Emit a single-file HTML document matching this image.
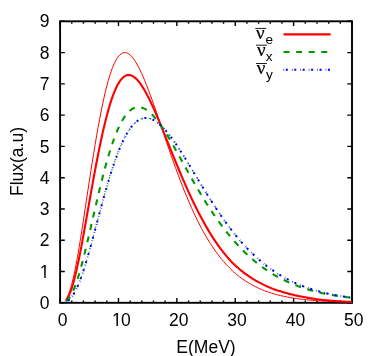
<!DOCTYPE html><html><head><meta charset="utf-8"><style>html,body{margin:0;padding:0;background:#fff}body{width:382px;height:356px;overflow:hidden}</style></head><body><svg width="382" height="356" viewBox="0 0 382 356" style="display:block;font-family:'Liberation Sans',sans-serif">
<rect width="382" height="356" fill="#fff"/>
<rect x="60.1" y="21.3" width="291.9" height="281.5" fill="none" stroke="#000" stroke-width="1.9"/>
<path d="M60.10 302.8 v-4.7 M60.10 21.3 v4.7 M71.78 302.8 v-2.4 M71.78 21.3 v2.4 M83.45 302.8 v-2.4 M83.45 21.3 v2.4 M95.13 302.8 v-2.4 M95.13 21.3 v2.4 M106.80 302.8 v-2.4 M106.80 21.3 v2.4 M118.48 302.8 v-4.7 M118.48 21.3 v4.7 M130.16 302.8 v-2.4 M130.16 21.3 v2.4 M141.83 302.8 v-2.4 M141.83 21.3 v2.4 M153.51 302.8 v-2.4 M153.51 21.3 v2.4 M165.18 302.8 v-2.4 M165.18 21.3 v2.4 M176.86 302.8 v-4.7 M176.86 21.3 v4.7 M188.54 302.8 v-2.4 M188.54 21.3 v2.4 M200.21 302.8 v-2.4 M200.21 21.3 v2.4 M211.89 302.8 v-2.4 M211.89 21.3 v2.4 M223.56 302.8 v-2.4 M223.56 21.3 v2.4 M235.24 302.8 v-4.7 M235.24 21.3 v4.7 M246.92 302.8 v-2.4 M246.92 21.3 v2.4 M258.59 302.8 v-2.4 M258.59 21.3 v2.4 M270.27 302.8 v-2.4 M270.27 21.3 v2.4 M281.94 302.8 v-2.4 M281.94 21.3 v2.4 M293.62 302.8 v-4.7 M293.62 21.3 v4.7 M305.30 302.8 v-2.4 M305.30 21.3 v2.4 M316.97 302.8 v-2.4 M316.97 21.3 v2.4 M328.65 302.8 v-2.4 M328.65 21.3 v2.4 M340.32 302.8 v-2.4 M340.32 21.3 v2.4 M352.00 302.8 v-4.7 M352.00 21.3 v4.7 M60.1 302.80 h4.7 M352.0 302.80 h-4.7 M60.1 271.52 h4.7 M352.0 271.52 h-4.7 M60.1 240.24 h4.7 M352.0 240.24 h-4.7 M60.1 208.97 h4.7 M352.0 208.97 h-4.7 M60.1 177.69 h4.7 M352.0 177.69 h-4.7 M60.1 146.41 h4.7 M352.0 146.41 h-4.7 M60.1 115.13 h4.7 M352.0 115.13 h-4.7 M60.1 83.86 h4.7 M352.0 83.86 h-4.7 M60.1 52.58 h4.7 M352.0 52.58 h-4.7 M60.1 21.30 h4.7 M352.0 21.30 h-4.7" stroke="#000" stroke-width="1.4" fill="none"/>
<clipPath id="cp"><rect x="60.1" y="21.3" width="291.9" height="281.5"/></clipPath>
<g clip-path="url(#cp)" fill="none" stroke-linejoin="round">
<path d="M65.94 299.58 L67.40 297.02 L68.86 293.60 L70.32 289.31 L71.78 284.16 L73.24 278.21 L74.70 271.51 L76.15 264.14 L77.61 256.16 L79.07 247.67 L80.53 238.75 L81.99 229.48 L83.45 219.96 L84.91 210.25 L86.37 200.45 L87.83 190.86 L89.29 181.29 L90.75 171.82 L92.21 162.50 L93.67 153.37 L95.13 144.48 L96.59 135.87 L98.05 127.59 L99.51 119.65 L100.97 112.10 L102.43 104.95 L103.88 98.22 L105.34 91.85 L106.80 85.95 L108.26 80.55 L109.72 75.63 L111.18 71.21 L112.64 67.28 L114.10 63.84 L115.56 60.88 L117.02 58.39 L118.48 56.36 L119.94 54.79 L121.40 53.64 L122.86 52.92 L124.32 52.60 L125.78 52.67 L127.24 53.10 L128.70 53.89 L130.16 55.02 L131.62 56.46 L133.07 58.20 L134.53 60.22 L135.99 62.49 L137.45 65.01 L138.91 67.76 L140.37 70.71 L141.83 73.85 L143.29 77.17 L144.75 80.64 L146.21 84.26 L147.67 88.00 L149.13 91.85 L150.59 95.81 L152.05 99.84 L153.51 103.95 L154.97 108.11 L156.43 112.33 L157.89 116.58 L159.35 120.86 L160.81 125.16 L162.27 129.46 L163.72 133.76 L165.18 138.06 L166.64 142.33 L168.10 146.59 L169.56 150.81 L171.02 155.00 L172.48 159.15 L173.94 163.26 L175.40 167.31 L176.86 171.31 L178.32 175.25 L179.78 179.12 L181.24 182.94 L182.70 186.69 L184.16 190.36 L185.62 193.97 L187.08 197.50 L188.54 200.96 L190.00 204.35 L191.45 207.65 L192.91 210.88 L194.37 214.04 L195.83 217.11 L197.29 220.11 L198.75 223.03 L200.21 225.87 L201.67 228.64 L203.13 231.32 L204.59 233.94 L206.05 236.47 L207.51 238.94 L208.97 241.33 L210.43 243.64 L211.89 245.89 L213.35 248.06 L214.81 250.17 L216.27 252.21 L217.73 254.18 L219.19 256.09 L220.64 257.94 L222.10 259.72 L223.56 261.44 L225.02 263.10 L226.48 264.71 L227.94 266.26 L229.40 267.75 L230.86 269.19 L232.32 270.58 L233.78 271.91 L235.24 273.20 L236.70 274.44 L238.16 275.63 L239.62 276.78 L241.08 277.89 L242.54 278.95 L244.00 279.97 L245.46 280.95 L246.92 281.90 L248.38 282.80 L249.84 283.67 L251.29 284.51 L252.75 285.31 L254.21 286.08 L255.67 286.82 L257.13 287.53 L258.59 288.21 L260.05 288.86 L261.51 289.49 L262.97 290.09 L264.43 290.66 L265.89 291.21 L267.35 291.74 L268.81 292.24 L270.27 292.72 L271.73 293.19 L273.19 293.63 L274.65 294.05 L276.11 294.46 L277.57 294.84 L279.03 295.21 L280.48 295.57 L281.94 295.90 L283.40 296.23 L284.86 296.54 L286.32 296.83 L287.78 297.11 L289.24 297.38 L290.70 297.64 L292.16 297.89 L293.62 298.12 L295.08 298.34 L296.54 298.56 L298.00 298.76 L299.46 298.96 L300.92 299.14 L302.38 299.32 L303.84 299.49 L305.30 299.65 L306.76 299.80 L308.21 299.95 L309.67 300.09 L311.13 300.22 L312.59 300.35 L314.05 300.47 L315.51 300.58 L316.97 300.69 L318.43 300.80 L319.89 300.89 L321.35 300.99 L322.81 301.08 L324.27 301.16 L325.73 301.25 L327.19 301.32 L328.65 301.40 L330.11 301.47 L331.57 301.54 L333.03 301.60 L334.49 301.66 L335.95 301.72 L337.40 301.77 L338.86 301.82 L340.32 301.87 L341.78 301.92 L343.24 301.96 L344.70 302.01 L346.16 302.05 L347.62 302.09 L349.08 302.12 L350.54 302.16 L352.00 302.19" stroke="#f00" stroke-width="1.0"/>
<path d="M65.94 300.28 L67.40 298.26 L68.86 295.55 L70.32 292.12 L71.78 287.99 L73.24 283.19 L74.70 277.76 L76.15 271.75 L77.61 265.22 L79.07 258.23 L80.53 250.85 L81.99 243.14 L83.45 235.17 L84.91 227.01 L86.37 218.71 L87.83 210.50 L89.29 202.27 L90.75 194.04 L92.21 185.87 L93.67 177.81 L95.13 169.91 L96.59 162.19 L98.05 154.69 L99.51 147.45 L100.97 140.48 L102.43 133.81 L103.88 127.46 L105.34 121.39 L106.80 115.69 L108.26 110.27 L109.72 105.24 L111.18 100.60 L112.64 96.36 L114.10 92.51 L115.56 89.07 L117.02 86.02 L118.48 83.36 L119.94 81.08 L121.40 79.17 L122.86 77.63 L124.32 76.45 L125.78 75.62 L127.24 75.11 L128.70 74.96 L130.16 75.13 L131.62 75.60 L133.07 76.34 L134.53 77.34 L135.99 78.60 L137.45 80.08 L138.91 81.80 L140.37 83.71 L141.83 85.83 L143.29 88.12 L144.75 90.58 L146.21 93.19 L147.67 95.95 L149.13 98.83 L150.59 101.84 L152.05 104.94 L153.51 108.15 L154.97 111.43 L156.43 114.79 L157.89 118.22 L159.35 121.70 L160.81 125.22 L162.27 128.78 L163.72 132.36 L165.18 135.97 L166.64 139.59 L168.10 143.21 L169.56 146.84 L171.02 150.45 L172.48 154.06 L173.94 157.65 L175.40 161.22 L176.86 164.76 L178.32 168.27 L179.78 171.75 L181.24 175.19 L182.70 178.59 L184.16 181.95 L185.62 185.29 L187.08 188.58 L188.54 191.82 L190.00 195.01 L191.45 198.15 L192.91 201.24 L194.37 204.27 L195.83 207.24 L197.29 210.15 L198.75 213.01 L200.21 215.81 L201.67 218.54 L203.13 221.22 L204.59 223.83 L206.05 226.39 L207.51 228.90 L208.97 231.35 L210.43 233.74 L211.89 236.07 L213.35 238.34 L214.81 240.55 L216.27 242.70 L217.73 244.79 L219.19 246.83 L220.64 248.81 L222.10 250.73 L223.56 252.60 L225.02 254.41 L226.48 256.17 L227.94 257.88 L229.40 259.54 L230.86 261.14 L232.32 262.66 L233.78 264.08 L235.24 265.46 L236.70 266.79 L238.16 268.07 L239.62 269.32 L241.08 270.52 L242.54 271.68 L244.00 272.81 L245.46 273.90 L246.92 274.95 L248.38 275.96 L249.84 276.94 L251.29 277.89 L252.75 278.81 L254.21 279.69 L255.67 280.54 L257.13 281.36 L258.59 282.16 L260.05 282.92 L261.51 283.69 L262.97 284.43 L264.43 285.15 L265.89 285.84 L267.35 286.50 L268.81 287.14 L270.27 287.76 L271.73 288.35 L273.19 288.91 L274.65 289.43 L276.11 289.93 L277.57 290.42 L279.03 290.88 L280.48 291.33 L281.94 291.76 L283.40 292.22 L284.86 292.65 L286.32 293.07 L287.78 293.48 L289.24 293.87 L290.70 294.24 L292.16 294.60 L293.62 294.94 L295.08 295.28 L296.54 295.60 L298.00 295.91 L299.46 296.21 L300.92 296.50 L302.38 296.77 L303.84 297.05 L305.30 297.34 L306.76 297.62 L308.21 297.88 L309.67 298.13 L311.13 298.37 L312.59 298.60 L314.05 298.82 L315.51 299.03 L316.97 299.23 L318.43 299.42 L319.89 299.61 L321.35 299.78 L322.81 299.95 L324.27 300.10 L325.73 300.25 L327.19 300.39 L328.65 300.52 L330.11 300.65 L331.57 300.77 L333.03 300.89 L334.49 301.00 L335.95 301.10 L337.40 301.20 L338.86 301.30 L340.32 301.39 L341.78 301.48 L343.24 301.56 L344.70 301.63 L346.16 301.71 L347.62 301.78 L349.08 301.84 L350.54 301.91 L352.00 301.97" stroke="#f00" stroke-width="2.1"/>
<path d="M65.94 301.34 L67.40 300.13 L68.86 298.47 L70.32 296.34 L71.78 293.73 L73.24 290.66 L74.70 287.13 L76.15 283.17 L77.61 278.81 L79.07 274.07 L80.53 269.00 L81.99 263.62 L83.45 257.99 L84.91 252.13 L86.37 246.10 L87.83 239.98 L89.29 233.74 L90.75 227.44 L92.21 221.09 L93.67 214.74 L95.13 208.41 L96.59 202.13 L98.05 195.92 L99.51 189.82 L100.97 183.85 L102.43 178.02 L103.88 172.35 L105.34 166.85 L106.80 161.55 L108.26 156.50 L109.72 151.68 L111.18 147.10 L112.64 142.76 L114.10 138.67 L115.56 134.83 L117.02 131.25 L118.48 127.93 L119.94 124.87 L121.40 122.07 L122.86 119.53 L124.32 117.23 L125.78 115.19 L127.24 113.40 L128.70 111.83 L130.16 110.50 L131.62 109.39 L133.07 108.51 L134.53 107.86 L135.99 107.41 L137.45 107.18 L138.91 107.14 L140.37 107.30 L141.83 107.64 L143.29 108.16 L144.75 108.85 L146.21 109.70 L147.67 110.70 L149.13 111.85 L150.59 113.13 L152.05 114.54 L153.51 116.08 L154.97 117.73 L156.43 119.49 L157.89 121.35 L159.35 123.30 L160.81 125.35 L162.27 127.47 L163.72 129.67 L165.18 131.93 L166.64 134.26 L168.10 136.64 L169.56 139.08 L171.02 141.56 L172.48 144.08 L173.94 146.63 L175.40 149.22 L176.86 151.83 L178.32 154.46 L179.78 157.10 L181.24 159.76 L182.70 162.42 L184.16 165.08 L185.62 167.70 L187.08 170.31 L188.54 172.91 L190.00 175.50 L191.45 178.08 L192.91 180.64 L194.37 183.19 L195.83 185.71 L197.29 188.22 L198.75 190.70 L200.21 193.15 L201.67 195.58 L203.13 197.99 L204.59 200.36 L206.05 202.71 L207.51 205.00 L208.97 207.27 L210.43 209.51 L211.89 211.71 L213.35 213.88 L214.81 216.01 L216.27 218.11 L217.73 220.18 L219.19 222.21 L220.64 224.21 L222.10 226.17 L223.56 228.10 L225.02 229.99 L226.48 231.85 L227.94 233.67 L229.40 235.46 L230.86 237.21 L232.32 238.93 L233.78 240.61 L235.24 242.27 L236.70 243.89 L238.16 245.47 L239.62 247.02 L241.08 248.54 L242.54 250.02 L244.00 251.48 L245.46 252.89 L246.92 254.28 L248.38 255.64 L249.84 256.96 L251.29 258.25 L252.75 259.51 L254.21 260.75 L255.67 261.95 L257.13 263.12 L258.59 264.27 L260.05 265.38 L261.51 266.48 L262.97 267.55 L264.43 268.60 L265.89 269.61 L267.35 270.61 L268.81 271.57 L270.27 272.51 L271.73 273.43 L273.19 274.32 L274.65 275.17 L276.11 276.01 L277.57 276.82 L279.03 277.61 L280.48 278.38 L281.94 279.13 L283.40 279.86 L284.86 280.56 L286.32 281.24 L287.78 281.91 L289.24 282.55 L290.70 283.18 L292.16 283.79 L293.62 284.38 L295.08 284.98 L296.54 285.55 L298.00 286.11 L299.46 286.65 L300.92 287.18 L302.38 287.69 L303.84 288.18 L305.30 288.65 L306.76 289.11 L308.21 289.56 L309.67 289.99 L311.13 290.40 L312.59 290.81 L314.05 291.20 L315.51 291.58 L316.97 291.95 L318.43 292.31 L319.89 292.66 L321.35 293.00 L322.81 293.32 L324.27 293.61 L325.73 293.90 L327.19 294.17 L328.65 294.44 L330.11 294.70 L331.57 294.95 L333.03 295.19 L334.49 295.43 L335.95 295.66 L337.40 295.88 L338.86 296.10 L340.32 296.31 L341.78 296.52 L343.24 296.72 L344.70 296.91 L346.16 297.10 L347.62 297.28 L349.08 297.45 L350.54 297.62 L352.00 297.79" stroke="#009a00" stroke-width="2.1" stroke-dasharray="6 6.65" stroke-dashoffset="-0.3"/>
<path d="M65.94 301.93 L67.40 301.16 L68.86 300.09 L70.32 298.68 L71.78 296.92 L73.24 294.81 L74.70 292.34 L76.15 289.52 L77.61 286.36 L79.07 282.87 L80.53 279.08 L81.99 275.00 L83.45 270.67 L84.91 266.09 L86.37 261.31 L87.83 256.35 L89.29 251.23 L90.75 245.98 L92.21 240.63 L93.67 235.20 L95.13 229.72 L96.59 224.21 L98.05 218.70 L99.51 213.21 L100.97 207.76 L102.43 202.37 L103.88 197.06 L105.34 191.85 L106.80 186.75 L108.26 181.77 L109.72 176.93 L111.18 172.25 L112.64 167.73 L114.10 163.38 L115.56 159.21 L117.02 155.23 L118.48 151.44 L119.94 147.85 L121.40 144.46 L122.86 141.28 L124.32 138.30 L125.78 135.54 L127.24 132.98 L128.70 130.64 L130.16 128.50 L131.62 126.57 L133.07 124.84 L134.53 123.32 L135.99 121.99 L137.45 120.86 L138.91 119.93 L140.37 119.17 L141.83 118.61 L143.29 118.22 L144.75 118.00 L146.21 117.95 L147.67 118.06 L149.13 118.33 L150.59 118.75 L152.05 119.32 L153.51 120.02 L154.97 120.86 L156.43 121.82 L157.89 122.90 L159.35 124.10 L160.81 125.41 L162.27 126.82 L163.72 128.33 L165.18 129.93 L166.64 131.61 L168.10 133.38 L169.56 135.22 L171.02 137.13 L172.48 139.11 L173.94 141.14 L175.40 143.24 L176.86 145.38 L178.32 147.56 L179.78 149.79 L181.24 152.05 L182.70 154.35 L184.16 156.67 L185.62 159.02 L187.08 161.39 L188.54 163.77 L190.00 166.17 L191.45 168.58 L192.91 171.00 L194.37 173.42 L195.83 175.84 L197.29 178.26 L198.75 180.68 L200.21 183.09 L201.67 185.49 L203.13 187.88 L204.59 190.26 L206.05 192.62 L207.51 194.97 L208.97 197.29 L210.43 199.60 L211.89 201.89 L213.35 204.15 L214.81 206.39 L216.27 208.60 L217.73 210.79 L219.19 212.95 L220.64 215.08 L222.10 217.19 L223.56 219.26 L225.02 221.30 L226.48 223.32 L227.94 225.30 L229.40 227.24 L230.86 229.16 L232.32 231.04 L233.78 232.90 L235.24 234.71 L236.70 236.50 L238.16 238.25 L239.62 239.97 L241.08 241.65 L242.54 243.30 L244.00 244.92 L245.46 246.50 L246.92 248.06 L248.38 249.58 L249.84 251.06 L251.29 252.52 L252.75 253.94 L254.21 255.33 L255.67 256.68 L257.13 258.01 L258.59 259.31 L260.05 260.57 L261.51 261.81 L262.97 263.01 L264.43 264.19 L265.89 265.34 L267.35 266.46 L268.81 267.55 L270.27 268.61 L271.73 269.64 L273.19 270.65 L274.65 271.64 L276.11 272.59 L277.57 273.53 L279.03 274.43 L280.48 275.31 L281.94 276.17 L283.40 277.01 L284.86 277.82 L286.32 278.61 L287.78 279.38 L289.24 280.12 L290.70 280.85 L292.16 281.55 L293.62 282.24 L295.08 282.90 L296.54 283.55 L298.00 284.18 L299.46 284.78 L300.92 285.38 L302.38 285.95 L303.84 286.50 L305.30 287.04 L306.76 287.57 L308.21 288.07 L309.67 288.57 L311.13 289.04 L312.59 289.51 L314.05 289.95 L315.51 290.39 L316.97 290.81 L318.43 291.22 L319.89 291.61 L321.35 291.99 L322.81 292.36 L324.27 292.72 L325.73 293.07 L327.19 293.41 L328.65 293.73 L330.11 294.05 L331.57 294.35 L333.03 294.65 L334.49 294.93 L335.95 295.21 L337.40 295.47 L338.86 295.73 L340.32 295.98 L341.78 296.22 L343.24 296.46 L344.70 296.68 L346.16 296.90 L347.62 297.11 L349.08 297.31 L350.54 297.51 L352.00 297.70" stroke="#009a00" stroke-width="1" stroke-dasharray="2 6.6" stroke-dashoffset="-3"/>
<path d="M65.94 301.93 L67.40 301.16 L68.86 300.09 L70.32 298.68 L71.78 296.92 L73.24 294.81 L74.70 292.34 L76.15 289.52 L77.61 286.36 L79.07 282.87 L80.53 279.08 L81.99 275.00 L83.45 270.67 L84.91 266.09 L86.37 261.31 L87.83 256.35 L89.29 251.23 L90.75 245.98 L92.21 240.63 L93.67 235.20 L95.13 229.72 L96.59 224.21 L98.05 218.70 L99.51 213.21 L100.97 207.76 L102.43 202.37 L103.88 197.06 L105.34 191.85 L106.80 186.75 L108.26 181.77 L109.72 176.93 L111.18 172.25 L112.64 167.73 L114.10 163.38 L115.56 159.21 L117.02 155.23 L118.48 151.44 L119.94 147.85 L121.40 144.46 L122.86 141.28 L124.32 138.30 L125.78 135.54 L127.24 132.98 L128.70 130.64 L130.16 128.50 L131.62 126.57 L133.07 124.84 L134.53 123.32 L135.99 121.99 L137.45 120.86 L138.91 119.93 L140.37 119.17 L141.83 118.61 L143.29 118.22 L144.75 118.00 L146.21 117.95 L147.67 118.06 L149.13 118.33 L150.59 118.75 L152.05 119.32 L153.51 120.02 L154.97 120.86 L156.43 121.82 L157.89 122.90 L159.35 124.10 L160.81 125.41 L162.27 126.82 L163.72 128.33 L165.18 129.93 L166.64 131.61 L168.10 133.38 L169.56 135.22 L171.02 137.13 L172.48 139.11 L173.94 141.14 L175.40 143.24 L176.86 145.38 L178.32 147.56 L179.78 149.79 L181.24 152.05 L182.70 154.35 L184.16 156.67 L185.62 159.02 L187.08 161.39 L188.54 163.77 L190.00 166.17 L191.45 168.58 L192.91 171.00 L194.37 173.42 L195.83 175.84 L197.29 178.26 L198.75 180.68 L200.21 183.09 L201.67 185.49 L203.13 187.88 L204.59 190.26 L206.05 192.62 L207.51 194.97 L208.97 197.29 L210.43 199.60 L211.89 201.89 L213.35 204.15 L214.81 206.39 L216.27 208.60 L217.73 210.79 L219.19 212.95 L220.64 215.08 L222.10 217.19 L223.56 219.26 L225.02 221.30 L226.48 223.32 L227.94 225.30 L229.40 227.24 L230.86 229.16 L232.32 231.04 L233.78 232.90 L235.24 234.71 L236.70 236.50 L238.16 238.25 L239.62 239.97 L241.08 241.65 L242.54 243.30 L244.00 244.92 L245.46 246.50 L246.92 248.06 L248.38 249.58 L249.84 251.06 L251.29 252.52 L252.75 253.94 L254.21 255.33 L255.67 256.68 L257.13 258.01 L258.59 259.31 L260.05 260.57 L261.51 261.81 L262.97 263.01 L264.43 264.19 L265.89 265.34 L267.35 266.46 L268.81 267.55 L270.27 268.61 L271.73 269.64 L273.19 270.65 L274.65 271.64 L276.11 272.59 L277.57 273.53 L279.03 274.43 L280.48 275.31 L281.94 276.17 L283.40 277.01 L284.86 277.82 L286.32 278.61 L287.78 279.38 L289.24 280.12 L290.70 280.85 L292.16 281.55 L293.62 282.24 L295.08 282.90 L296.54 283.55 L298.00 284.18 L299.46 284.78 L300.92 285.38 L302.38 285.95 L303.84 286.50 L305.30 287.04 L306.76 287.57 L308.21 288.07 L309.67 288.57 L311.13 289.04 L312.59 289.51 L314.05 289.95 L315.51 290.39 L316.97 290.81 L318.43 291.22 L319.89 291.61 L321.35 291.99 L322.81 292.36 L324.27 292.72 L325.73 293.07 L327.19 293.41 L328.65 293.73 L330.11 294.05 L331.57 294.35 L333.03 294.65 L334.49 294.93 L335.95 295.21 L337.40 295.47 L338.86 295.73 L340.32 295.98 L341.78 296.22 L343.24 296.46 L344.70 296.68 L346.16 296.90 L347.62 297.11 L349.08 297.31 L350.54 297.51 L352.00 297.70" stroke="#00f" stroke-width="2" stroke-dasharray="0.6 1.7 2.0 4.14"/>
</g>
<g style="filter:grayscale(1)">
<text x="62.70" y="326.2" font-size="17.5" text-anchor="middle">0</text>
<text x="112.0" y="326.2" font-size="17.5">1</text><rect x="112.60" y="323.89" width="3.80" height="3.51" fill="#fff"/><rect x="117.95" y="323.89" width="3.79" height="3.51" fill="#fff"/>
<text x="121.0" y="326.2" font-size="17.5">0</text>
<text x="178.66" y="326.2" font-size="17.5" text-anchor="middle">20</text>
<text x="237.04" y="326.2" font-size="17.5" text-anchor="middle">30</text>
<text x="295.42" y="326.2" font-size="17.5" text-anchor="middle">40</text>
<text x="353.80" y="326.2" font-size="17.5" text-anchor="middle">50</text>
<text x="49.6" y="308.90" font-size="17.5" text-anchor="end">0</text>
<text x="49.6" y="277.62" font-size="17.5" text-anchor="end">1</text>
<rect x="40.47" y="275.31" width="3.80" height="3.51" fill="#fff"/><rect x="45.81" y="275.31" width="3.79" height="3.51" fill="#fff"/>
<text x="49.6" y="246.34" font-size="17.5" text-anchor="end">2</text>
<text x="49.6" y="215.07" font-size="17.5" text-anchor="end">3</text>
<text x="49.6" y="183.79" font-size="17.5" text-anchor="end">4</text>
<text x="49.6" y="152.51" font-size="17.5" text-anchor="end">5</text>
<text x="49.6" y="121.23" font-size="17.5" text-anchor="end">6</text>
<text x="49.6" y="89.96" font-size="17.5" text-anchor="end">7</text>
<text x="49.6" y="58.68" font-size="17.5" text-anchor="end">8</text>
<text x="49.6" y="27.40" font-size="17.5" text-anchor="end">9</text>
<text x="206" y="352.5" font-size="17.5" text-anchor="middle">E(MeV)</text>
<text transform="translate(23.4 161.5) rotate(-90)" font-size="17.5" text-anchor="middle">Flux(a.u)</text>
</g>
<g style="filter:grayscale(1)">
<text x="256.00" y="39.00" font-size="19.0" stroke="#000" stroke-width="0.2" font-family="'Liberation Serif',serif">ν</text>
<text x="265.50" y="44.00" font-size="13.6">e</text>
<path d="M255.3 28.45 h10.9" stroke="#000" stroke-width="0.9"/>
<text x="257.00" y="56.30" font-size="19.0" stroke="#000" stroke-width="0.2" font-family="'Liberation Serif',serif">ν</text>
<text x="265.80" y="60.90" font-size="13.6">x</text>
<path d="M256.0 45.20 h10.9" stroke="#000" stroke-width="0.9"/>
<text x="256.70" y="74.40" font-size="19.0" stroke="#000" stroke-width="0.2" font-family="'Liberation Serif',serif">ν</text>
<text x="266.00" y="79.40" font-size="13.6">y</text>
<path d="M256.0 63.50 h10.9" stroke="#000" stroke-width="0.9"/>
</g>
<path d="M283.5 34.4 H330.6" stroke="#f00" stroke-width="2.1"/>
<path d="M283.5 52.0 H330.6" stroke="#009a00" stroke-width="2.1" stroke-dasharray="6 6.6"/>
<path d="M283.5 69.8 H330.6" stroke="#00f" stroke-width="2.1" stroke-dasharray="0.6 1.7 2.0 4.14"/>
</svg></body></html>
